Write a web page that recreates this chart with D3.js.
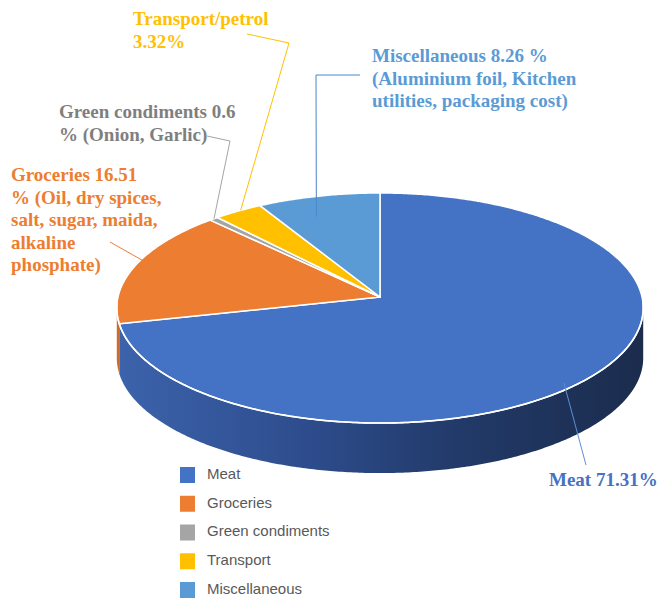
<!DOCTYPE html>
<html lang="en">
<head>
<meta charset="UTF-8">
<title>Cost split</title>
<script src="https://d3js.org/d3.v7.min.js"></script>
<style>
    body{margin:0;background:#fff;}
    svg{display:block;}
    .lbl{font-family:"Liberation Serif",serif;font-weight:bold;font-size:19px;}
    .leg{font-family:"Liberation Sans",Arial,sans-serif;font-size:15px;fill:#595959;}
</style>
</head>
<body>
<div id="chart"></div>
<script>
    // data
    const categories = ['Meat','Groceries','Green condiments','Transport','Miscellaneous'];
    const shares = [71.31, 16.51, 0.6, 3.32, 8.26];
    const colors = ['#4472c4','#ed7d31','#a5a5a5','#ffc000','#5b9bd5'];
    const labelColors = ['#4472c4','#ed7d31','#7f7f7f','#ffc000','#5b9bd5'];
    const labelLines = [
        ['Meat 71.31%'],
        ['Groceries 16.51','% (Oil, dry spices,','salt, sugar, maida,','alkaline','phosphate)'],
        ['Green condiments 0.6','% (Onion, Garlic)'],
        ['Transport/petrol','3.32%'],
        ['Miscellaneous 8.26 %','(Aluminium foil, Kitchen','utilities, packaging cost)']
    ];

    const width = 671, height = 601;
    // pie geometry (perspective ellipse)
    const cx = 380, cy = 297, R = 262, Ry = 114, k = 0.0957, depth = 50;

    // label layout: text x / first baseline, leader knee points, anchor on the slice
    const layout = [
        {x:549, y:486, pts:[[586,465]], anchor:[137,0.96]},
        {x:11,  y:181, pts:[[110,242]], anchor:[288,0.95]},
        {x:59,  y:118, pts:[[207,136],[230,141]], anchor:[317.3,1]},
        {x:133, y:25,  pts:[[247,34],[289,43]], anchor:[325,1]},
        {x:372, y:62,  pts:[[360,75],[316,75]], anchor:[341,0.8]}
    ];
    const lineH = 22.5;

    const svg = d3.select('#chart').append('svg')
        .attr('width',width).attr('height',height);

    const defs = svg.append('defs');
    const grad = defs.append('linearGradient').attr('id','sideGrad')
        .attr('gradientUnits','userSpaceOnUse')
        .attr('x1',cx-R).attr('x2',cx+R).attr('y1',0).attr('y2',0);
    [['0%','#3c63ab'],['35%','#2e4d8e'],['65%','#223a69'],['100%','#1b2c4d']]
        .forEach(s=>grad.append('stop').attr('offset',s[0]).attr('stop-color',s[1]));

    function proj(a, r, dy){
        const s = 1/(1 + k*r*Math.cos(a));
        return [cx + R*r*Math.sin(a)*s, cy - Ry*r*Math.cos(a)*s + (dy||0)];
    }
    function arcPts(a0, a1, dy){
        const n = Math.max(2, Math.ceil(Math.abs(a1-a0)/0.01));
        return d3.range(n+1).map(i=>proj(a0+(a1-a0)*i/n, 1, dy));
    }

    const arcs = d3.pie().sort(null).value(d=>d)(shares);
    const line = d3.line();

    // side walls (front half only)
    const aL = Math.PI/2 + Math.asin(k), aR = 2*Math.PI - aL;
    const sideG = svg.append('g');
    arcs.forEach((d,i)=>{
        const a0 = Math.max(d.startAngle, aL), a1 = Math.min(d.endAngle, aR);
        if(a1 <= a0) return;
        const pts = arcPts(a0,a1,0).concat(arcPts(a1,a0,depth));
        sideG.append('path')
            .attr('d', line(pts)+'Z')
            .attr('fill', i===0 ? 'url(#sideGrad)' : d3.color(colors[i]).darker(0.4))
            .attr('stroke','none');
    });

    // top face
    const topG = svg.append('g');
    arcs.forEach((d,i)=>{
        const pts = [[cx,cy]].concat(arcPts(d.startAngle,d.endAngle,0));
        topG.append('path')
            .attr('d', line(pts)+'Z')
            .attr('fill', colors[i])
            .attr('stroke','#fff')
            .attr('stroke-width',1.5)
            .attr('stroke-linejoin','round');
    });
    // white rim along front edge
    svg.append('path')
        .attr('d', line(arcPts(aL-0.05, aR+0.05, 0)))
        .attr('fill','none').attr('stroke','#fff').attr('stroke-width',1.6);

    // labels with leader lines
    const lblG = svg.append('g');
    labelLines.forEach((lines,i)=>{
        const L = layout[i];
        const end = proj(L.anchor[0]*Math.PI/180, L.anchor[1], 0);
        lblG.append('path')
            .attr('d', line(L.pts.concat([end])))
            .attr('fill','none')
            .attr('stroke', i===0 ? '#5b8fd6' : (i===2 ? '#a5a5a5' : (i===4 ? '#4a86c8' : colors[i])))
            .attr('stroke-width',1);
        const t = lblG.append('text').attr('class','lbl')
            .attr('fill', labelColors[i]);
        lines.forEach((s,j)=>{
            t.append('tspan').attr('x',L.x).attr('y',L.y+j*lineH).text(s);
        });
    });

    // legend
    const yLeg = d3.scalePoint().domain(categories).range([475,590]);
    const leg = svg.append('g');
    categories.forEach((c,i)=>{
        leg.append('rect')
            .attr('x',180).attr('y',yLeg(c)-8)
            .attr('width',15).attr('height',16)
            .attr('fill',colors[i]);
        leg.append('text').attr('class','leg')
            .attr('x',207).attr('y',yLeg(c))
            .attr('dominant-baseline','middle')
            .text(c);
    });
</script>
</body>
</html>
